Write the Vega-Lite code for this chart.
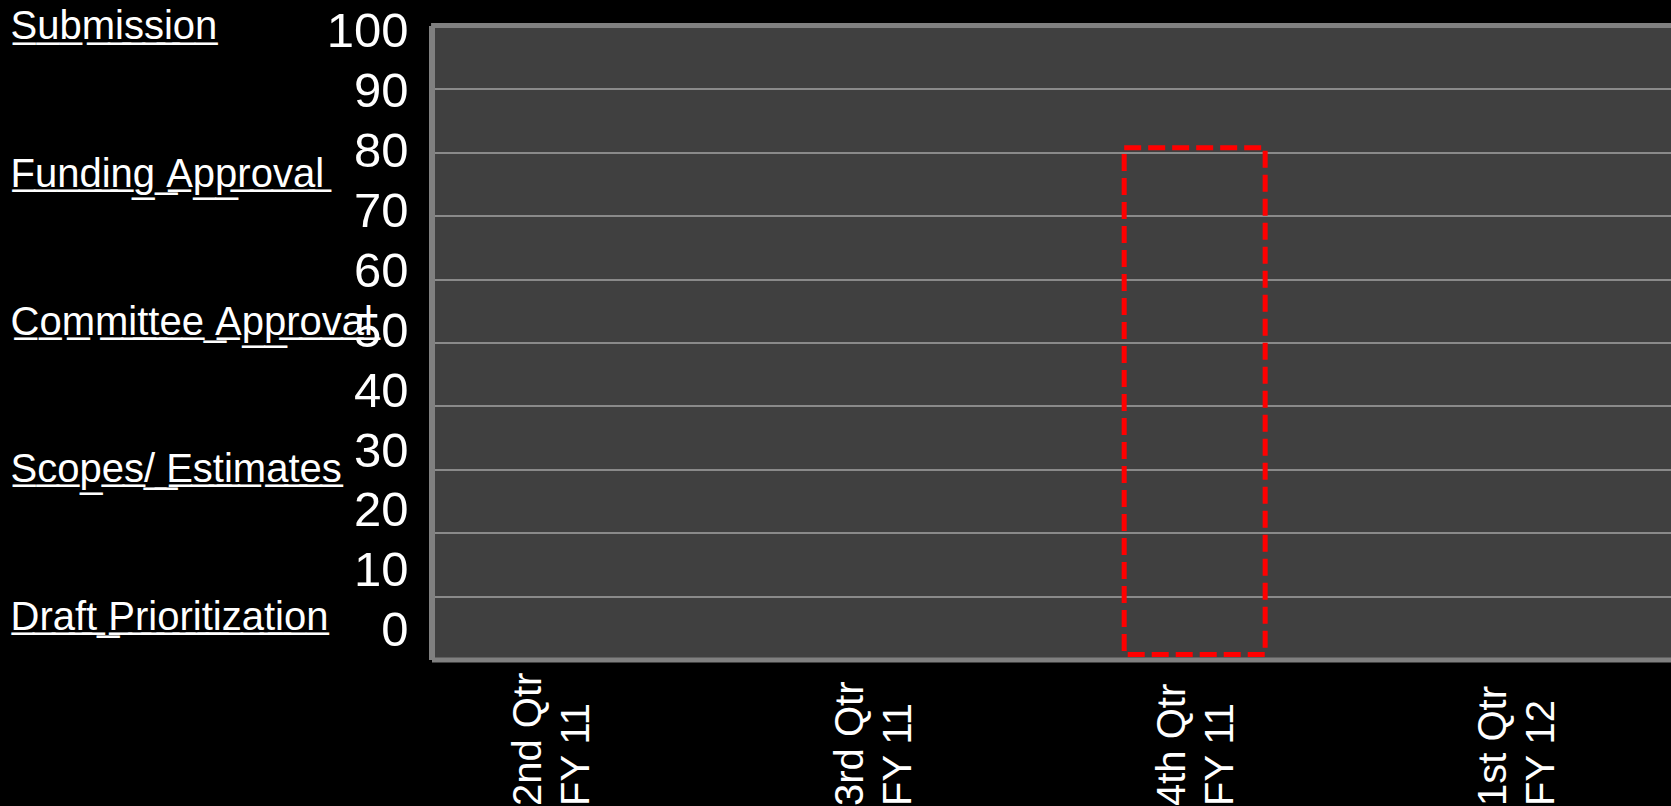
{
  "$schema": "https://vega.github.io/schema/vega-lite/v6.json",
  "autosize": {"type": "none"},
  "width": 1239.5,
  "height": 634,
  "padding": {"left": 431.5, "top": 25.5, "right": 0, "bottom": 146.5},
  "background": "#000000",
  "config": {
    "view": {"fill": "#404040", "stroke": null},
    "font": "Liberation Sans",
    "axis": {"labelFont": "Liberation Sans", "labelColor": "#ffffff", "title": null, "ticks": false, "labelLimit": 0}
  },
  "datasets": {
    "review": [
      {"quarter": "2nd Qtr FY 11", "from": null, "to": null},
      {"quarter": "3rd Qtr FY 11", "from": null, "to": null},
      {"quarter": "4th Qtr FY 11", "from": 0.8, "to": 80.7},
      {"quarter": "1st Qtr FY 12", "from": null, "to": null}
    ],
    "stages": [
      {"stage": "Submission"},
      {"stage": "Funding Approval"},
      {"stage": "Committee Approval"},
      {"stage": "Scopes/ Estimates"},
      {"stage": "Draft Prioritization"}
    ]
  },
  "layer": [
    {
      "data": {"name": "review"},
      "layer": [
        {
          "mark": {"type": "bar", "fill": "transparent", "stroke": "#ff0000", "strokeWidth": 5, "strokeDash": [17, 7], "strokeJoin": "miter"},
          "encoding": {
            "x": {
              "field": "quarter", "type": "nominal",
              "sort": ["2nd Qtr FY 11", "3rd Qtr FY 11", "4th Qtr FY 11", "1st Qtr FY 12"],
              "scale": {"domain": ["2nd Qtr FY 11", "3rd Qtr FY 11", "4th Qtr FY 11", "1st Qtr FY 12"], "paddingInner": 0.5616, "paddingOuter": 0.2079, "align": 0.37},
              "axis": {
                "orient": "bottom", "labelAngle": -90, "labelAlign": "left", "labelBaseline": "middle",
                "labelPadding": 146, "labelFontSize": 40, "labelLineHeight": 48, "labelOffset": -22,
                "labelExpr": "[slice(datum.label, 0, 7), slice(datum.label, 8)]",
                "domainColor": "#808080", "domainWidth": 5, "grid": false
              }
            },
            "y": {
              "field": "to", "type": "quantitative",
              "scale": {"domain": [0, 100], "nice": false, "zero": true},
              "axis": {
                "orient": "left", "values": [0, 10, 20, 30, 40, 50, 60, 70, 80, 90, 100],
                "labels": false, "grid": true, "gridColor": "#8a8a8a", "gridWidth": 2,
                "domainColor": "#808080", "domainWidth": 6
              }
            },
            "y2": {"field": "from"}
          }
        },
        {
          "mark": {"type": "rule", "color": "#808080", "strokeWidth": 5},
          "encoding": {"y": {"datum": 100}}
        }
      ]
    },
    {
      "data": {"name": "stages"},
      "mark": {"type": "point", "opacity": 0},
      "encoding": {
        "y": {
          "field": "stage", "type": "ordinal",
          "sort": ["Submission", "Funding Approval", "Committee Approval", "Scopes/ Estimates", "Draft Prioritization"],
          "scale": {"type": "point", "padding": 0.149, "align": 0.034},
          "axis": {
            "orient": "left", "offset": 0, "domain": false, "grid": false,
            "labelAlign": "left", "labelBaseline": "middle", "labelPadding": 421.5,
            "labelFontSize": 40,
            "labelExpr": "replace(datum.label, regexp('(.)', 'g'), '$1\u0332')"
          }
        }
      }
    },
    {
      "data": {"name": "review"},
      "mark": {"type": "point", "opacity": 0},
      "encoding": {
        "y": {
          "field": "to", "type": "quantitative",
          "scale": {"domain": [-4.795, 101.035], "nice": false, "zero": false},
          "axis": {
            "orient": "left", "offset": 0, "domain": false, "grid": false,
            "values": [0, 10, 20, 30, 40, 50, 60, 70, 80, 90, 100],
            "labelAlign": "right", "labelBaseline": "middle", "labelPadding": 23.5,
            "labelFontSize": 49, "labelOverlap": false, "labelFlush": false
          }
        }
      }
    }
  ],
  "resolve": {"scale": {"y": "independent"}, "axis": {"y": "independent"}}
}
